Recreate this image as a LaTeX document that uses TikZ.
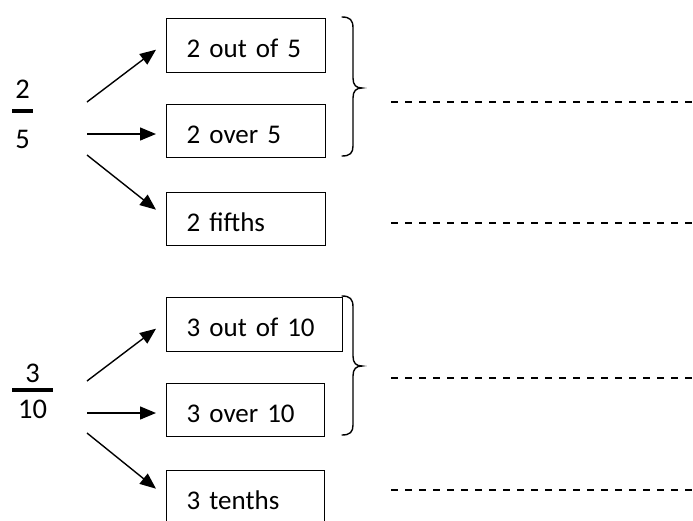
\documentclass[tikz,border=0pt]{standalone}
\usepackage{fontspec}
\newfontfamily\boxfont{Carlito}
\usetikzlibrary{arrows.meta,calc}
\tikzset{
  wordbox/.style={draw, line width=1.4pt, anchor=north west, align=left,
    inner xsep=20pt, inner ysep=0pt, text height=24pt, text depth=0pt,
    font=\boxfont\fontsize{27}{32}\selectfont},
  fracdigit/.style={anchor=base, inner sep=0pt, font=\boxfont\fontsize{28.5}{34}\selectfont},
  fracbar/.style={line width=3.5pt},
  arr/.style={line width=1.4pt, -{Triangle[length=16pt,width=13pt]}},
  bracepath/.style={line width=1.4pt, line cap=round},
  blank/.style={line width=2pt, dash pattern=on 7pt off 7pt}
}
\begin{document}
\begin{tikzpicture}[x=1pt,y=-1pt]
\useasboundingbox (0,0) rectangle (693,520);
\clip (0,0) rectangle (693,520);

% ---- two fifths ----
\node[fracdigit] (n1) at (22.5,98) {2};
\draw[fracbar] (12,111) -- (33,111);
\node[fracdigit] (d1) at (22.5,148) {5};

\node[wordbox, minimum width=159pt, minimum height=54pt, text width=119pt] (b1) at (166,18) {2 out of 5};
\node[wordbox, minimum width=159pt, minimum height=53pt, text width=119pt] (b2) at (166,104) {2 over 5};
\node[wordbox, minimum width=159pt, minimum height=53pt, text width=119pt] (b3) at (166,192) {2 fifths};

\coordinate (s1) at (87,102);
\coordinate (s2) at (87,134);
\coordinate (s3) at (87,155);
\draw[arr] (s1) -- ($(b1.west)+(-10,4)$);
\draw[arr] (s2) -- ($(s2 -| b2.west)+(-10,0)$);
\draw[arr] (s3) -- ($(b3.west)+(-10,-9.5)$);

\draw[bracepath] (342,17) .. controls (350,17) and (353,20) .. (353,28)
  -- (353,78) .. controls (353,85) and (356,88) .. (362,88)
  .. controls (356,88) and (353,91) .. (353,98)
  -- (353,146) .. controls (353,153) and (350,156) .. (342,156);

\draw[blank] (391,102) -- (693,102);
\draw[blank] (391,223) -- (693,223);

% ---- three tenths ----
\node[fracdigit] (n2) at (32.5,382) {3};
\draw[fracbar] (12,390) -- (53,390);
\node[fracdigit] (d2) at (32.5,418) {10};

\node[wordbox, minimum width=176pt, minimum height=54pt, text width=136pt] (b4) at (166,297) {3 out of 10};
\node[wordbox, minimum width=158pt, minimum height=53pt, text width=118pt] (b5) at (166,383) {3 over 10};
\node[wordbox, minimum width=158pt, minimum height=54pt, text width=118pt] (b6) at (166,470) {3 tenths};

\coordinate (s4) at (87,381);
\coordinate (s5) at (87,413);
\coordinate (s6) at (87,433);
\draw[arr] (s4) -- ($(b4.west)+(-10,4)$);
\draw[arr] (s5) -- ($(s5 -| b5.west)+(-10,0)$);
\draw[arr] (s6) -- ($(b6.west)+(-10,-9)$);

\draw[bracepath] (342,296) .. controls (350,296) and (353,299) .. (353,307)
  -- (353,356) .. controls (353,363) and (356,366) .. (362,366)
  .. controls (356,366) and (353,369) .. (353,376)
  -- (353,425) .. controls (353,432) and (350,435) .. (342,435);

\draw[blank] (391,378) -- (693,378);
\draw[blank] (391,490) -- (693,490);
\end{tikzpicture}
\end{document}
